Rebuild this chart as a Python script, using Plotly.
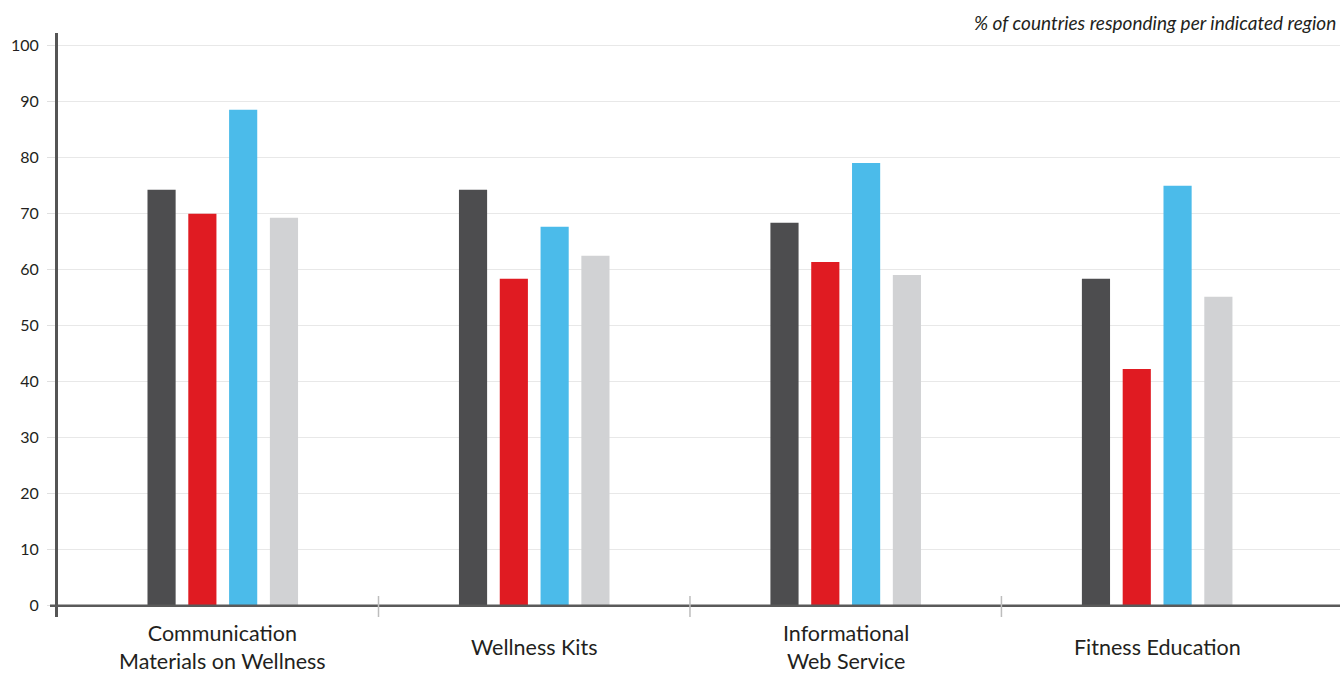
import plotly.graph_objects as go

categories = ["Communication<br>Materials on Wellness", "Wellness Kits",
              "Informational<br>Web Service", "Fitness Education"]
series_names = ["Region 1", "Region 2", "Region 3", "Region 4"]
series_values = [
    [74.3, 74.3, 68.4, 58.4],
    [70.0, 58.4, 61.4, 42.3],
    [88.6, 67.7, 79.1, 75.0],
    [69.3, 62.5, 59.1, 55.2],
]
series_colors = ["#4d4d4f", "#e01b22", "#4bbbea", "#d1d2d4"]
y_ticks = list(range(0, 101, 10))
note = "% of countries responding per indicated region"

W, H = 1340, 674
ML, MR, MT, MB = 58, 0, 33, 57
plot_w = W - ML - MR
plot_h = H - MT - MB

fig = go.Figure()
idx = list(range(len(categories)))
for name, vals, col in zip(series_names, series_values, series_colors):
    fig.add_trace(go.Bar(x=idx, y=vals, name=name, marker=dict(color=col, line=dict(width=0)),
                         hoverinfo="skip"))

xr = [-0.529, 3.587]
fig.update_layout(
    width=W, height=H,
    margin=dict(l=ML, r=MR, t=MT, b=MB, pad=0),
    paper_bgcolor="white", plot_bgcolor="white",
    barmode="group", bargap=0.476, bargroupgap=0.31,
    showlegend=False,
    font=dict(family="Lato, Open Sans, sans-serif", color="#231f20"),
    xaxis=dict(range=xr, showticklabels=False, showgrid=False, zeroline=False,
               showline=False, ticks="", fixedrange=True),
    yaxis=dict(range=[-2, 102.3], tickvals=y_ticks, ticktext=[str(v) for v in y_ticks],
               showgrid=True, gridcolor="#e8e8e8", gridwidth=1,
               zeroline=False, showline=True, linecolor="#555555", linewidth=3,
               ticks="outside", ticklen=8, tickcolor="#e0e0e0", tickwidth=1,
               ticklabelstandoff=5,
               tickfont=dict(size=16, color="#231f20"), fixedrange=True),
)

shapes = []
shapes.append(dict(type="line", xref="paper", yref="y", x0=-8 / plot_w, x1=1, y0=0, y1=0,
                   line=dict(color="#5a5a5a", width=2.5), layer="above"))
for i in range(len(categories) - 1):
    shapes.append(dict(type="line", xref="x", yref="paper", x0=i + 0.5, x1=i + 0.5,
                       y0=0, y1=21 / plot_h, line=dict(color="#bdbdbd", width=1.5)))
fig.update_layout(shapes=shapes)

annotations = []
for i, c in enumerate(categories):
    annotations.append(dict(x=i, xref="x", y=0, yref="paper", yanchor="middle", xanchor="center",
                            yshift=-30, text=c, showarrow=False, borderpad=0,
                            font=dict(size=21.5, color="#231f20")))
annotations.append(dict(x=1, xref="paper", y=1, yref="paper", xanchor="right", yanchor="middle",
                        xshift=-2, yshift=11, text="<i>" + note + "</i>", showarrow=False,
                        font=dict(size=19, color="#231f20")))
fig.update_layout(annotations=annotations)

fig.write_html("out.html", config={"displayModeBar": False, "staticPlot": True},
               post_script="document.body.style.margin='0';document.body.style.overflow='hidden';")
